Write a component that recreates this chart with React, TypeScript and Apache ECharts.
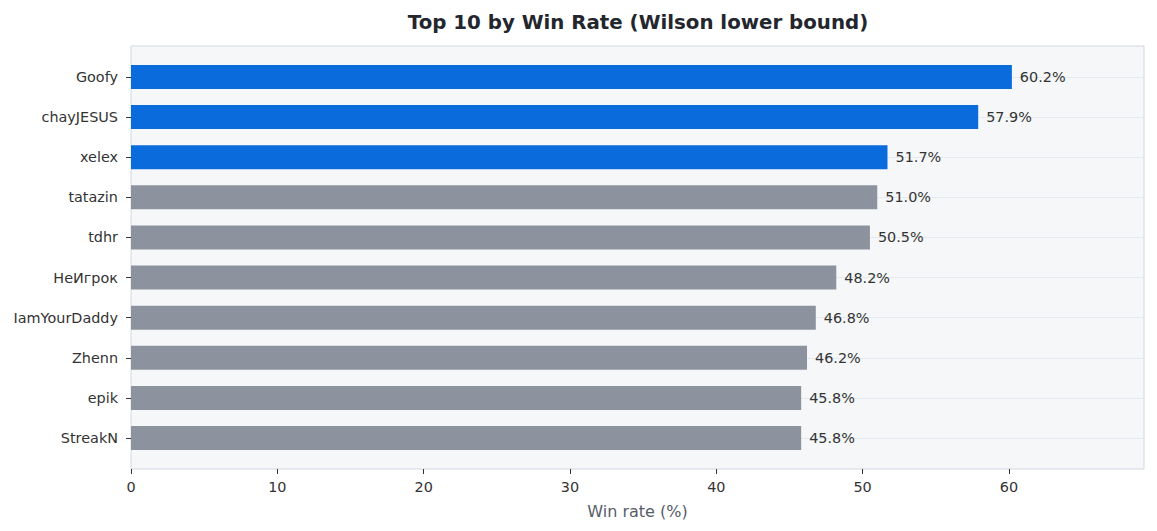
import React, { useEffect, useRef } from "react";
import * as echarts from "echarts";

const players = ["Goofy", "chayJESUS", "xelex", "tatazin", "tdhr", "НеИгрок", "IamYourDaddy", "Zhenn", "epik", "StreakN"];
const winRates = [60.2, 57.9, 51.7, 51.0, 50.5, 48.2, 46.8, 46.2, 45.8, 45.8];
const highlighted = [true, true, true, false, false, false, false, false, false, false];
const xTicks = [0, 10, 20, 30, 40, 50, 60];

const FONT = "DejaVu Sans";

export default function App() {
  const ref = useRef<HTMLDivElement>(null);
  useEffect(() => {
    document.body.style.margin = "0";
    const chart = echarts.init(ref.current!, null, { renderer: "svg" });
    const xMax = 69.23;
    chart.setOption({
      animation: false,
      textStyle: { fontFamily: FONT },
      title: {
        text: "Top 10 by Win Rate (Wilson lower bound)",
        left: 633,
        textAlign: "center",
        top: 7,
        textStyle: { fontFamily: FONT, fontSize: 19.8, fontWeight: "bold", color: "#23262d" },
      },
      grid: [
        { left: 131, right: 13, top: 46, height: 423, show: true, backgroundColor: "#f6f7f9", borderColor: "#d3d8e0", borderWidth: 1 },
        { left: 131, right: 13, top: 77, height: 361 },
      ],
      xAxis: [
        {
          type: "value", gridIndex: 0, min: 0, max: xMax, interval: 10,
          axisLine: { show: false },
          axisTick: { show: true, length: 5, lineStyle: { color: "#333" }, customValues: xTicks },
          axisLabel: {
            fontFamily: FONT, fontSize: 14.4, color: "#333", margin: 11,
            customValues: xTicks,
            formatter: (v: number) => (xTicks.includes(v) ? String(v) : ""),
          },
          splitLine: { show: false },
          name: "Win rate (%)", nameLocation: "middle", nameGap: 34,
          nameTextStyle: { fontFamily: FONT, fontSize: 16, color: "#565d69" },
        },
        { type: "value", gridIndex: 1, min: 0, max: xMax, show: false },
      ],
      yAxis: [
        { type: "value", gridIndex: 0, show: false },
        {
          type: "category", gridIndex: 1, data: players, inverse: true, boundaryGap: false,
          axisLine: { show: false },
          axisTick: { show: true, length: 5, lineStyle: { color: "#333" } },
          axisLabel: { fontFamily: FONT, fontSize: 14.4, color: "#333", margin: 13 },
          splitLine: { show: true, lineStyle: { color: "#e6e9ef", width: 1 } },
        },
      ],
      series: [
        {
          type: "bar", xAxisIndex: 1, yAxisIndex: 1, barWidth: 24,
          data: winRates.map((v, i) => ({ value: v, itemStyle: { color: highlighted[i] ? "#0a6bdc" : "#8c939e" } })),
          label: {
            show: true, position: "right", distance: 8, fontFamily: FONT, fontSize: 14.4, color: "#333",
            formatter: (p: any) => p.value.toFixed(1) + "%",
          },
        },
      ],
    });
    return () => chart.dispose();
  }, []);
  return <div ref={ref} style={{ width: 1157, height: 531 }} />;
}
